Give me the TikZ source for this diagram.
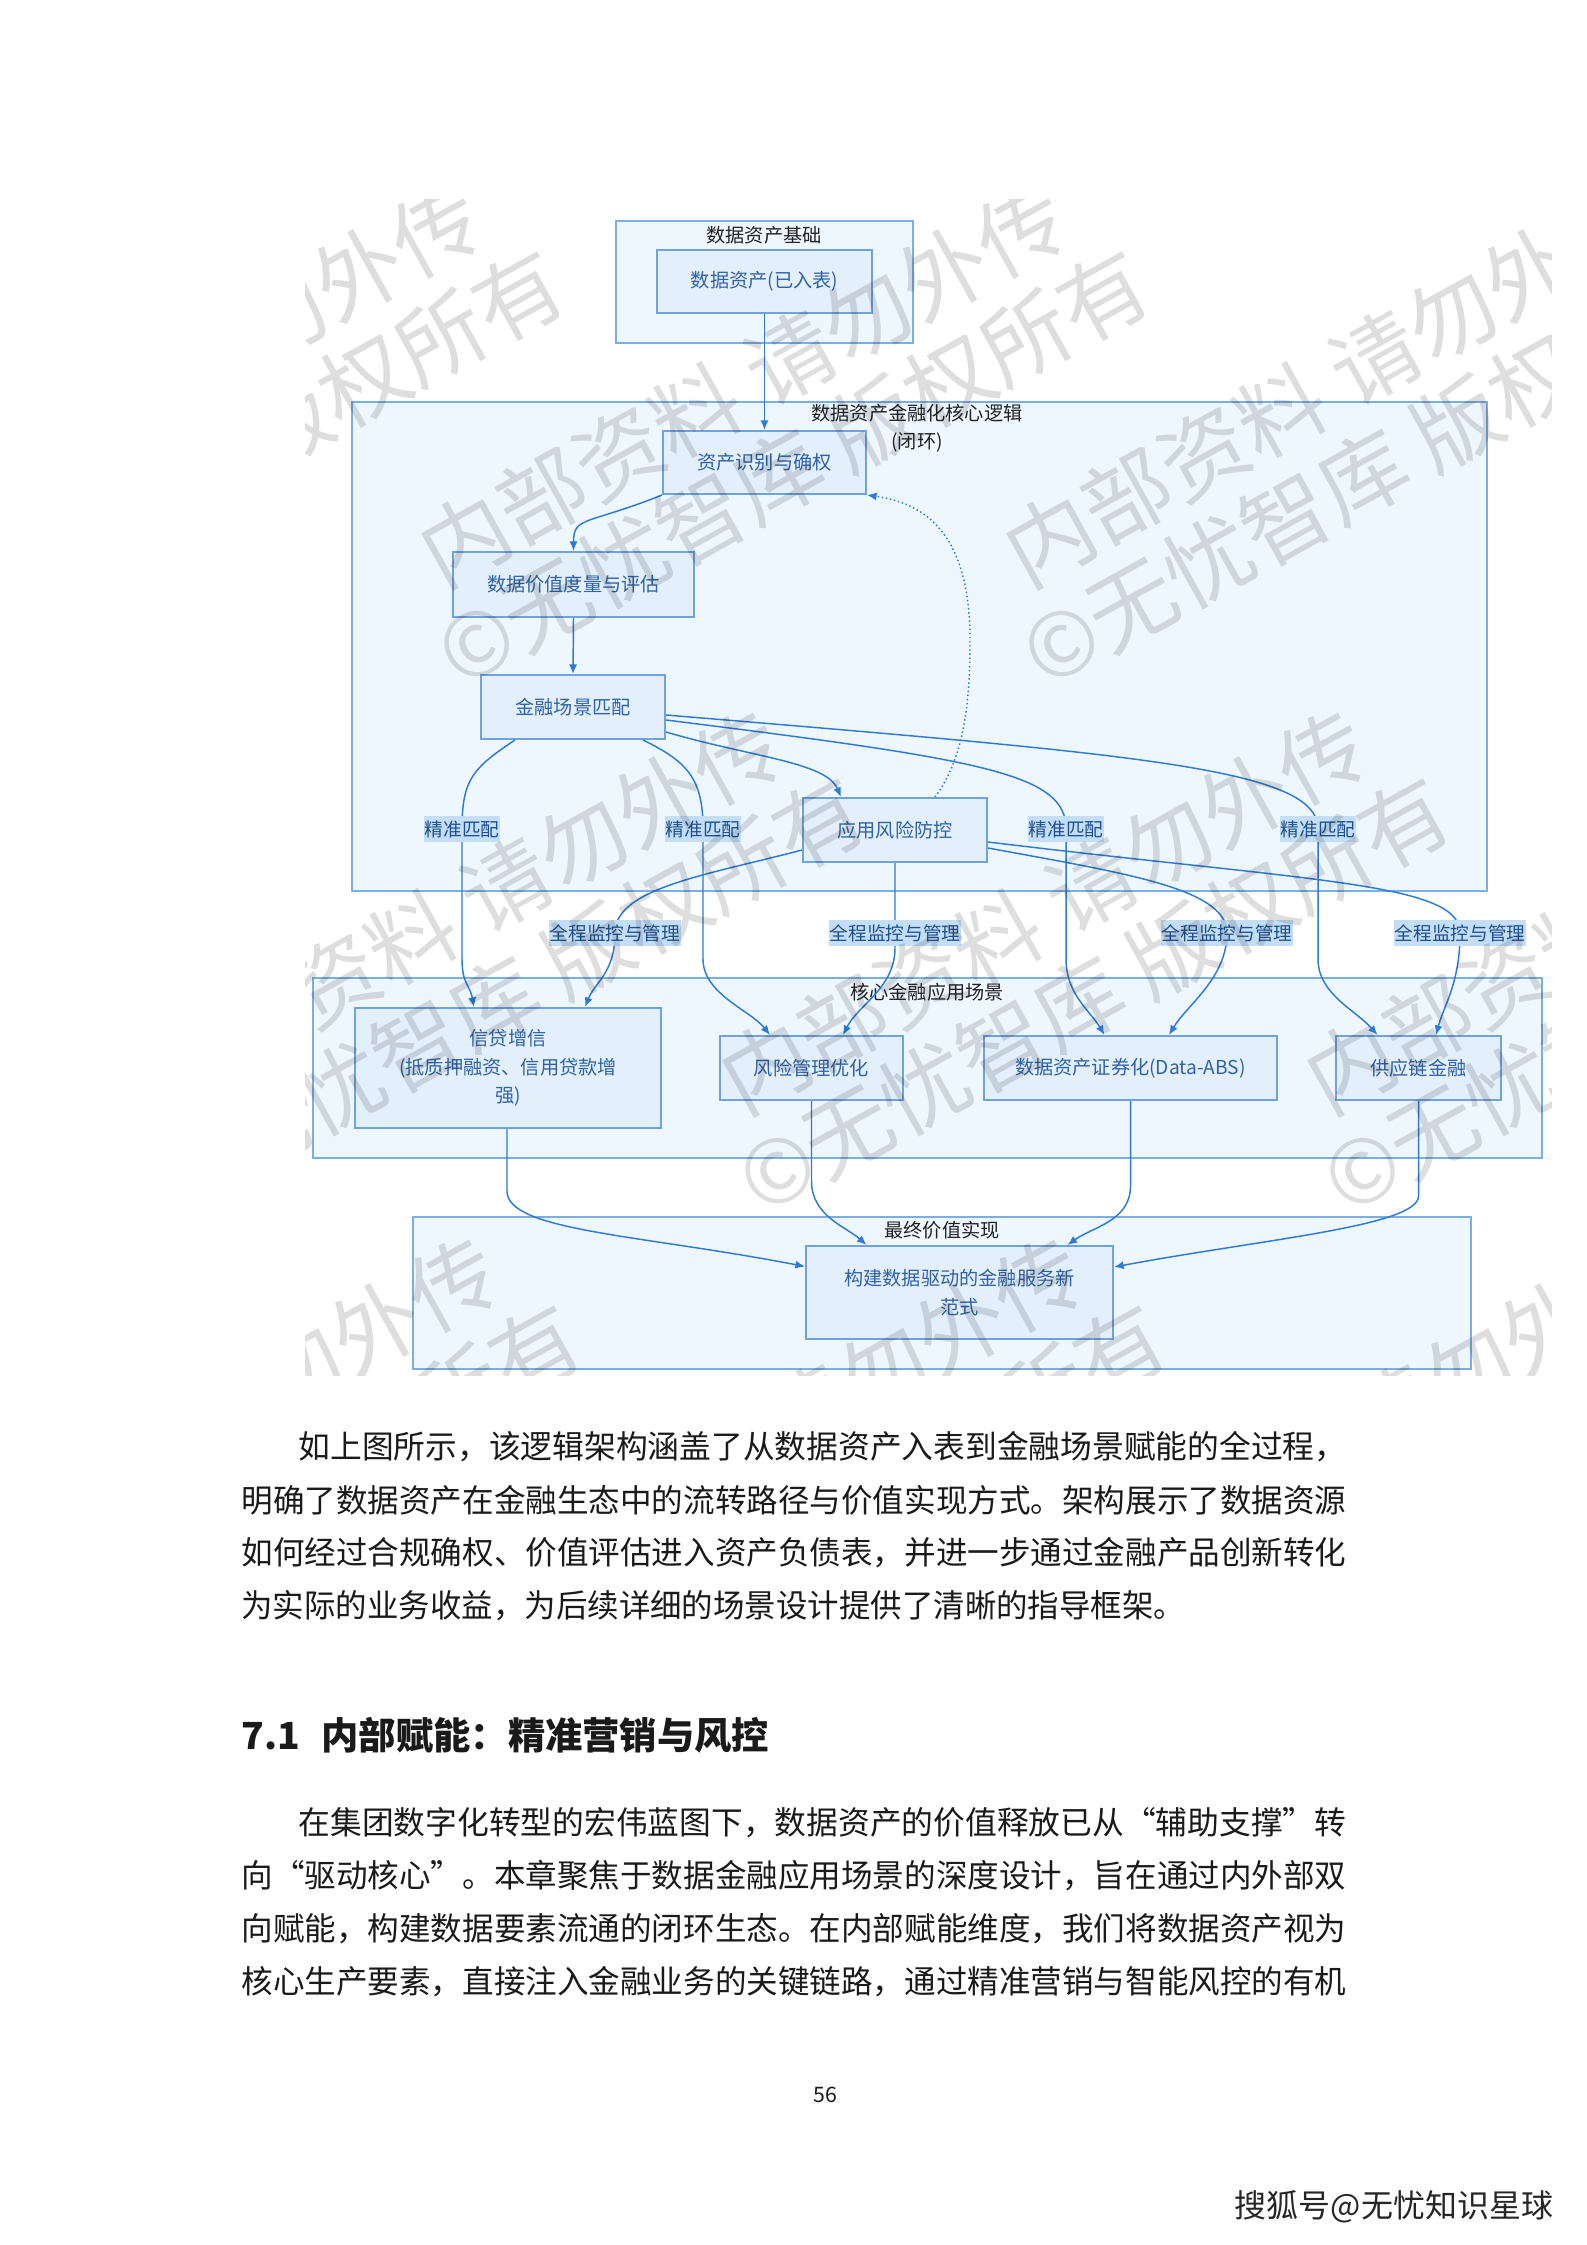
\documentclass[tikz,border=0pt]{standalone}
\usepackage{fontspec}
\setmainfont{Noto Sans CJK SC}
\usepackage{graphicx}
\usetikzlibrary{arrows.meta,calc}
\definecolor{boxfill}{HTML}{E3EFFB}
\definecolor{boxdraw}{HTML}{6FA3DC}
\definecolor{contfill}{HTML}{EEF6FE}
\definecolor{contdraw}{HTML}{7BAEE3}
\definecolor{linec}{HTML}{2E7BD6}
\definecolor{boxtext}{HTML}{2F62A8}
\definecolor{lblfill}{HTML}{C4DEF7}
\definecolor{lbltext}{HTML}{1E4F8F}
\definecolor{titletext}{HTML}{222222}
\definecolor{bodytext}{HTML}{1A1A1A}
\newcommand\mybox[7]{\node[#6, minimum width={(#4-#2)*0.37512pt}, minimum height={(#5-#3)*0.37512pt}] (#1) at ({(#2+#4)/2},{(#3+#5)/2}) {#7};}
\tikzset{
  cont/.style={draw=contdraw, fill=contfill, line width=0.75pt, inner sep=0, rectangle},
  proc/.style={draw=boxdraw, fill=boxfill, line width=0.75pt, inner sep=0, rectangle, font=\fontsize{7.2}{10.7}\selectfont, text=boxtext, align=center},
  ttl/.style={font=\fontsize{7.2}{10.5}\selectfont, text=titletext, align=center, inner sep=0},
  lbl/.style={fill=lblfill, text=lbltext, font=\fontsize{7}{8}\selectfont, inner xsep=0.3pt, inner ysep=1.6pt},
  conn/.style={draw=linec, line width=0.55pt, -{Latex[length=3.6pt,width=3pt]}},
  body/.style={font=\fontsize{12}{12}\selectfont, inner sep=0, anchor=west, text=bodytext},
  wm/.style={font=\fontsize{33}{33}\selectfont, text=black, text opacity=0.13, inner sep=0, rotate=29, anchor=west}
}
\begin{document}
\begin{tikzpicture}[x=0.37512pt,y=-0.37512pt]
\useasboundingbox (0,0) rectangle (1587,2245);
\fill[white] (0,0) rectangle (1587,2245);

% containers
\mybox{bcont}{616}{221}{913}{343}{cont}{}
\mybox{ccont}{352}{402}{1487}{891}{cont}{}
\mybox{acont}{313}{978}{1542}{1158}{cont}{}
\mybox{fcont}{413}{1217}{1471}{1369}{cont}{}

% titles
\node[ttl] (t1) at (764,235) {数据资产基础};
\node[ttl] (t2) at (917,428) {数据资产金融化核心逻辑\\(闭环)};
\node[ttl] (t3) at (927,992) {核心金融应用场景};
\node[ttl] (t4) at (942,1230) {最终价值实现};

% boxes
\mybox{asset}{657}{250}{872}{313}{proc}{数据资产(已入表)}
\mybox{rec}{663}{431}{866}{494}{proc}{资产识别与确权}
\mybox{val}{453}{552}{694}{617}{proc}{数据价值度量与评估}
\mybox{match}{481}{675}{665}{739}{proc}{金融场景匹配}
\mybox{riskctl}{803}{798}{987}{862}{proc}{应用风险防控}
\mybox{credit}{355}{1008}{661}{1128}{proc}{信贷增信\\(抵质押融资、信用贷款增\\强)}
\mybox{riskopt}{720}{1036}{903}{1100}{proc}{风险管理优化}
\mybox{sec}{984}{1036}{1277}{1100}{proc}{数据资产证券化(Data-ABS)}
\mybox{supply}{1336}{1036}{1501}{1100}{proc}{供应链金融}
\mybox{final}{806}{1246}{1113}{1339}{proc}{构建数据驱动的金融服务新\\范式}

% label positions
\coordinate (m1) at (462,829);
\coordinate (m2) at (703,829);
\coordinate (m3) at (1066,829);
\coordinate (m4) at (1318,829);
\coordinate (g1) at (615,933);
\coordinate (g2) at (895,933);
\coordinate (g3) at (1227,933);
\coordinate (g4) at (1460,933);
\coordinate (loopc) at (970,640);

% connectors
\draw[conn] (asset.south) -- (rec.north);
\draw[conn] (rec.south west) .. controls +(-75,30) and +(0,-35) .. (val.north);
\draw[conn] (val.south) -- (match.north);

\draw[conn] ($(match.south west)+(35,0)$) .. controls +(-42,28) and +(0,-50) .. (m1) -- ($(m1)+(0,130)$) .. controls +(0,25) and +(-4,-22) .. ($(credit.north)+(-34,0)$);
\draw[conn] ($(match.south east)+(-23,0)$) .. controls +(45,22) and +(0,-50) .. (m2) -- ($(m2)+(0,130)$) .. controls +(0,35) and +(-20,-25) .. ($(riskopt.north)+(-41.5,0)$);
\draw[conn] ($(match.east)+(0,25)$) .. controls +(85,25) and +(-15,-35) .. ($(riskctl.north)+(-54,0)$);
\draw[conn] ($(match.east)+(0,13)$) .. controls +(320,40) and +(0,-55) .. (m3) -- ($(m3)+(0,130)$) .. controls +(0,35) and +(-15,-25) .. ($(sec.north)+(-26,0)$);
\draw[conn] ($(match.east)+(0,8)$) .. controls +(480,40) and +(0,-60) .. (m4) -- ($(m4)+(0,130)$) .. controls +(0,35) and +(-22,-25) .. ($(supply.north)+(-41,0)$);

\draw[conn] ($(riskctl.west)+(0,20)$) .. controls +(-95,25) and +(0,-45) .. (g1) .. controls +(0,40) and +(10,-25) .. ($(credit.north)+(77,0)$);
\draw[conn] (riskctl.south) -- ($(g2)+(0,15)$) .. controls +(0,40) and +(15,-30) .. ($(riskopt.north)+(31.5,0)$);
\draw[conn] ($(riskctl.east)+(0,18)$) .. controls +(135,25) and +(0,-45) .. (g3) .. controls +(0,45) and +(18,-30) .. ($(sec.north)+(38.5,0)$);
\draw[conn] ($(riskctl.east)+(0,12)$) .. controls +(330,40) and +(0,-50) .. (g4) .. controls +(0,50) and +(8,-30) .. ($(supply.north)+(17.5,0)$);

\draw[conn, densely dotted] ($(riskctl.north)+(40,0)$) .. controls +(30,-40) and +(0,60) .. (loopc) .. controls +(0,-110) and +(55,8) .. (rec.south east);

\draw[conn] ($(credit.south)+(-1,0)$) -- ($(credit.south)+(-1,62)$) .. controls +(0,40) and +(-165,-32) .. ($(final.west)+(0,-26)$);
\draw[conn] (riskopt.south) -- ($(riskopt.south)+(0,80)$) .. controls +(0,35) and +(-20,-18) .. ($(final.north)+(-93,0)$);
\draw[conn] (sec.south) -- ($(sec.south)+(0,85)$) .. controls +(0,35) and +(25,-18) .. ($(final.north)+(108,0)$);
\draw[conn] (supply.south) -- ($(supply.south)+(0,95)$) .. controls +(0,30) and +(150,-28) .. ($(final.east)+(0,-25.5)$);

% labels
\node[lbl] (l1) at (m1) {精准匹配};
\node[lbl] (l2) at (m2) {精准匹配};
\node[lbl] (l3) at (m3) {精准匹配};
\node[lbl] (l4) at (m4) {精准匹配};
\node[lbl] (k1) at (g1) {全程监控与管理};
\node[lbl] (k2) at (g2) {全程监控与管理};
\node[lbl] (k3) at (g3) {全程监控与管理};
\node[lbl] (k4) at (g4) {全程监控与管理};

% watermark over diagram
\begin{scope}
\clip (305,200) rectangle (1551,1375);
\foreach \j in {-1,0,1,2}{
  \foreach \i in {-2,-1,0,1,2}{
    \pgfmathsetmacro\wx{426+585*\i+301*\j}
    \pgfmathsetmacro\wy{560+527*\j}
    \node[wm] at (\wx,\wy) {内部资料 请勿外传};
    \node[wm] at (\wx+18,\wy+101) {©无忧智库 版权所有};
  }
}
\end{scope}

% body text
\node[body] (p1a) at (298,1447) {\resizebox{393.1pt}{\height}{如上图所示，该逻辑架构涵盖了从数据资产入表到金融场景赋能的全过程，}};
\node[body] (p1b) at (241,1500) {\resizebox{414.5pt}{\height}{明确了数据资产在金融生态中的流转路径与价值实现方式。架构展示了数据资源}};
\node[body] (p1c) at (241,1553) {\resizebox{414.5pt}{\height}{如何经过合规确权、价值评估进入资产负债表，并进一步通过金融产品创新转化}};
\node[body] (p1d) at (241,1606) {\resizebox{354pt}{\height}{为实际的业务收益，为后续详细的场景设计提供了清晰的指导框架。}};

\node[anchor=west, inner sep=0, text=bodytext, font=\fontsize{14}{14}\selectfont\bfseries] (h71) at (241,1735) {7.1\hspace{8pt}内部赋能：精准营销与风控};

\node[body] (p2a) at (298,1823) {\resizebox{393.1pt}{\height}{在集团数字化转型的宏伟蓝图下，数据资产的价值释放已从“辅助支撑”转}};
\node[body] (p2b) at (241,1876) {\resizebox{414.5pt}{\height}{向“驱动核心”。本章聚焦于数据金融应用场景的深度设计，旨在通过内外部双}};
\node[body] (p2c) at (241,1929) {\resizebox{414.5pt}{\height}{向赋能，构建数据要素流通的闭环生态。在内部赋能维度，我们将数据资产视为}};
\node[body] (p2d) at (241,1982) {\resizebox{414.5pt}{\height}{核心生产要素，直接注入金融业务的关键链路，通过精准营销与智能风控的有机}};

\node[inner sep=0, font=\fontsize{8}{8}\selectfont, text=bodytext] (pg) at (825,2095) {56};

\node[inner sep=0, font=\fontsize{12}{12}\selectfont\bfseries, text=white] (sohu2) at (1397,2210) {搜狐号@无忧知识星球};
\node[inner sep=0, font=\fontsize{12}{12}\selectfont, text=black!85] (sohu) at (1394,2207) {搜狐号@无忧知识星球};
\end{tikzpicture}
\end{document}
